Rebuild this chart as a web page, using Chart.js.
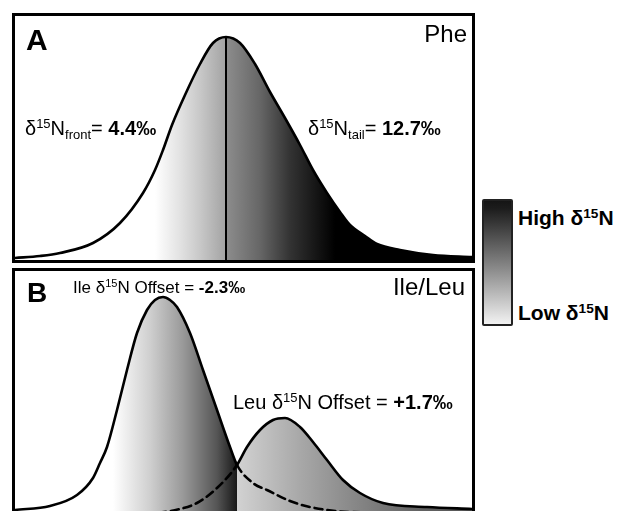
<!DOCTYPE html>
<html><head><meta charset="utf-8">
<script src="https://cdn.jsdelivr.net/npm/chart.js@4.4.1/dist/chart.umd.min.js"></script>
<style>
html,body{margin:0;padding:0;background:#fff;}
#root{position:relative;width:619px;height:511px;overflow:hidden;font-family:"Liberation Sans",Arial,sans-serif;color:#000;}
.frame{position:absolute;border:3px solid #000;box-sizing:border-box;}
canvas{position:absolute;}
.t{position:absolute;white-space:nowrap;line-height:1;}
.sup{font-size:0.65em;position:relative;top:-0.55em;}
.sub{font-size:0.65em;position:relative;top:0.3em;}
b{font-weight:bold;}
</style></head>
<body><div id="root">
<canvas id="cA" width="457" height="244" style="left:15px;top:16px"></canvas>
<canvas id="cB" width="457" height="242" style="left:15px;top:271px"></canvas>
<div class="frame" style="left:12px;top:13px;width:463px;height:250px"></div>
<div class="frame" style="left:12px;top:268px;width:463px;height:262px"></div>
<div style="position:absolute;left:482px;top:199px;width:31px;height:127px;box-sizing:border-box;border:2px solid #222;border-radius:2px;background:linear-gradient(to bottom,#151515 0%,#1c1c1c 6%,#8a8a8a 55%,#f2f2f2 100%);"></div>

<div class="t" style="left:26px;top:24.6px;font-size:30px;font-weight:bold;">A</div>
<div class="t" style="right:152px;top:21.7px;font-size:24px;">Phe</div>
<div class="t" style="left:25px;top:118.1px;font-size:20px;">&delta;<span class="sup">15</span>N<span class="sub">front</span>= <b>4.4&permil;</b></div>
<div class="t" style="left:308px;top:118.1px;font-size:20px;">&delta;<span class="sup">15</span>N<span class="sub">tail</span>= <b>12.7&permil;</b></div>

<div class="t" style="left:27px;top:279.3px;font-size:28px;font-weight:bold;">B</div>
<div class="t" style="right:154px;top:274.7px;font-size:24px;">Ile/Leu</div>
<div class="t" style="left:73px;top:278.6px;font-size:17px;">Ile &delta;<span class="sup">15</span>N Offset = <b>-2.3&permil;</b></div>
<div class="t" style="left:233px;top:392.1px;font-size:20px;">Leu &delta;<span class="sup">15</span>N Offset = <b>+1.7&permil;</b></div>

<div class="t" style="left:518px;top:207.2px;font-size:21px;font-weight:bold;">High &delta;<span class="sup">15</span>N</div>
<div class="t" style="left:518px;top:302.2px;font-size:21px;font-weight:bold;">Low &delta;<span class="sup">15</span>N</div>
</div>
<script>
// Panel A: Phe distribution (position across panel, height above baseline)
const pheX = [15,40,60,93,120,143,155,163,172,185,200,213,226,240,255,270,285,300,313,327,340,350,365,377,400,433,472];
const pheY = [2,4,7,17,37,67,90,110,135,165,196,217,223,217,196,168,142,115,90,67,48,35,24,16,10,5,3];
const pheSplitX = 226;
const pheSplitTop = 223;

// Panel B: Ile and Leu distributions
const ileX = [15,50,77,93,100,107,117,127,137,147,155,163,170,177,190,203,217,230,237,253,267,290,310,350,472];
const ileY = [3,7,18,35,50,66,103,143,180,203,213,216,213,206,180,143,103,66,48,30,23,12,6,1,0];
const leuX = [15,150,180,197,217,237,247,260,273,285,300,313,327,343,360,383,427,472];
const leuY = [0,0,4,10,25,48,66,83,93,95,86,71,53,33,20,10,6,4];
const crossX = 237;

const pts = (xs, ys) => xs.map((x, i) => ({x: x, y: ys[i]}));

function grad(stops){
  return (ctx) => {
    const c = ctx.chart;
    if (!c.chartArea) return 'rgba(0,0,0,0)';
    const xs = c.scales.x;
    const x0 = xs.getPixelForValue(stops[0][0]);
    const x1 = xs.getPixelForValue(stops[stops.length-1][0]);
    const g = c.ctx.createLinearGradient(x0, 0, x1, 0);
    stops.forEach(([v, col]) => {
      let o = (xs.getPixelForValue(v) - x0) / (x1 - x0);
      o = Math.max(0, Math.min(1, o));
      g.addColorStop(o, col);
    });
    return g;
  };
}

function opts(xmin, xmax, ymin, ymax){
  return {
    responsive: false, animation: false, maintainAspectRatio: false,
    layout: {padding: 0},
    plugins: {legend: {display: false}, tooltip: {enabled: false}, filler: {drawTime: 'beforeDatasetsDraw'}},
    scales: {
      x: {type: 'linear', min: xmin, max: xmax, display: false},
      y: {type: 'linear', min: ymin, max: ymax, display: false}
    },
    elements: {point: {radius: 0}, line: {borderCapStyle: 'round', borderJoinStyle: 'round'}}
  };
}

new Chart(document.getElementById('cA'), {
  type: 'line',
  data: {datasets: [
    {data: [{x: pheSplitX, y: 0}, {x: pheSplitX, y: pheSplitTop}], borderColor: '#000', borderWidth: 2, fill: false},
    {data: pts(pheX, pheY), borderColor: '#000', borderWidth: 2.6, cubicInterpolationMode: 'monotone', fill: 'origin',
     backgroundColor: grad([[155,'#ffffff'],[180,'#e2e2e2'],[200,'#c8c8c8'],[225,'#a4a4a4'],[227,'#8c8c8c'],[260,'#666666'],[290,'#333333'],[320,'#111111'],[335,'#000000']])}
  ]},
  options: opts(15, 472, 0, 244)
});

new Chart(document.getElementById('cB'), {
  type: 'line',
  data: {datasets: [
    {data: pts(ileX, ileY), borderColor: '#000', borderWidth: 2.6, cubicInterpolationMode: 'monotone', fill: 'origin',
     segment: {borderDash: (c) => c.p0.parsed.x >= crossX ? [8,5] : undefined},
     backgroundColor: grad([[113,'#ffffff'],[150,'#cfcfcf'],[183,'#999999'],[217,'#555555'],[237,'#181818'],[237,'rgba(0,0,0,0)'],[472,'rgba(0,0,0,0)']])},
    {data: pts(leuX, leuY), borderColor: '#000', borderWidth: 2.6, cubicInterpolationMode: 'monotone', fill: 'origin',
     segment: {borderDash: (c) => c.p1.parsed.x <= crossX ? [8,5] : undefined},
     backgroundColor: grad([[15,'rgba(0,0,0,0)'],[237,'rgba(0,0,0,0)'],[237,'#d2d2d2'],[300,'#a8a8a8'],[350,'#8a8a8a'],[420,'#626262'],[472,'#555555']])}
  ]},
  options: opts(15, 472, 0, 242)
});
</script>
</body></html>
